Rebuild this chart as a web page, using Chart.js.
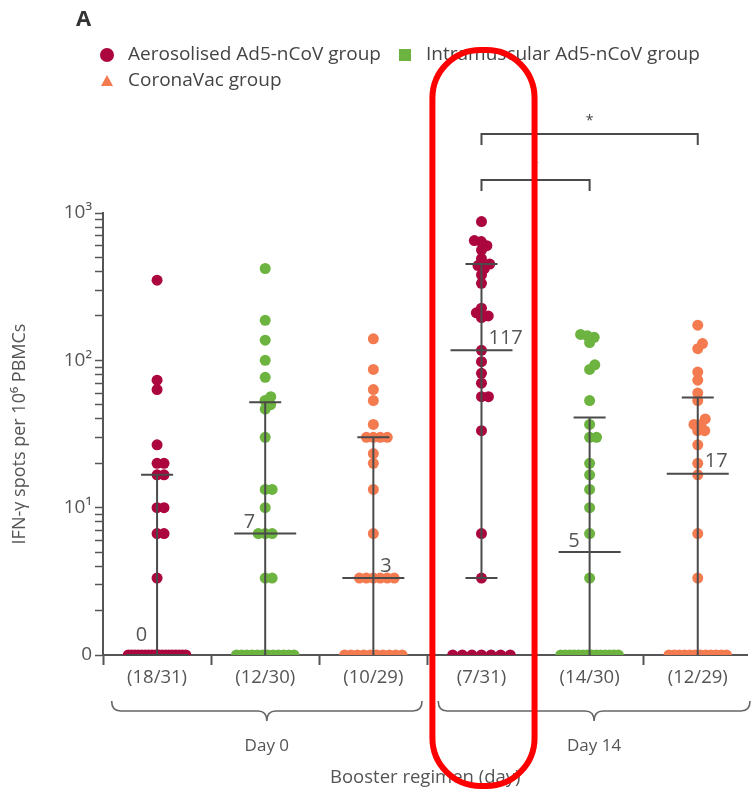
<!DOCTYPE html>
<html>
<head>
<meta charset="utf-8">
<script src="https://cdn.jsdelivr.net/npm/chart.js@4.4.0/dist/chart.umd.min.js"></script>
<style>
  html, body { margin: 0; padding: 0; background: #fff; }
</style>
</head>
<body>
<canvas id="chart" width="753" height="795"></canvas>
<script>
// columns: Day 0 (aero, IM, CoronaVac), Day 14 (aero, IM, CoronaVac)
const groupLabels = ["(18/31)", "(12/30)", "(10/29)", "(7/31)", "(14/30)", "(12/29)"];
const dayLabels = ["Day 0", "Day 14"];
const seriesNames = ["Aerosolised Ad5-nCoV group", "Intramuscular Ad5-nCoV group", "CoronaVac group"];
const seriesColors = ["#ab063e", "#6db33f", "#f47b50"];
const seriesShapes = ["circle", "rect", "triangle"];

// IFN-γ spots per 10^6 PBMCs (0 = no response)
const aeroDay0 = [350, 73.3, 63.3, 26.7, 20, 20, 16.7, 16.7, 10, 10, 6.67, 6.67, 3.33,
  0, 0, 0, 0, 0, 0, 0, 0, 0, 0, 0, 0, 0, 0, 0, 0, 0, 0];
const imDay0 = [420, 187, 137, 100, 76.7, 56.7, 53.3, 50, 46.7, 30, 13.3, 13.3, 10, 6.67, 6.67, 6.67, 3.33, 3.33,
  0, 0, 0, 0, 0, 0, 0, 0, 0, 0, 0, 0];
const cvDay0 = [140, 86.7, 63.3, 53.3, 36.7, 30, 30, 30, 30, 23.3, 20, 13.3, 6.67, 3.33, 3.33, 3.33, 3.33, 3.33, 3.33,
  0, 0, 0, 0, 0, 0, 0, 0, 0, 0];
const aeroDay14 = [875, 650, 640, 600, 560, 490, 450, 440, 420, 380, 333, 226, 210, 200, 195, 117, 98, 81.7, 70,
  56.7, 56.7, 33.3, 6.67, 3.33, 0, 0, 0, 0, 0, 0, 0];
const imDay14 = [150, 146.7, 143.3, 132, 93.3, 86.7, 53.3, 36.7, 30, 30, 20, 16.7, 13.3, 10, 6.67, 3.33,
  0, 0, 0, 0, 0, 0, 0, 0, 0, 0, 0, 0, 0, 0];
const cvDay14 = [173.3, 130, 120, 83.3, 73.3, 60, 53.3, 40, 36.7, 36.7, 33.3, 33.3, 26.7, 20, 16.7, 6.67, 3.33,
  0, 0, 0, 0, 0, 0, 0, 0, 0, 0, 0, 0];

// median and interquartile range per column
const medians = [0, 6.67, 3.33, 117, 5, 17];
const q1 = [0, 0, 0, 3.33, 0, 0];
const q3 = [16.7, 52, 30, 451, 41, 56];
const medianLabels = ["0", "7", "3", "117", "5", "17"];
const medianLabelSide = ["left", "left", "right", "right", "left", "right"];

// significance brackets (column from, column to, label)
const bracketFrom = [4, 4];
const bracketTo = [6, 5];
const bracketText = ["*", "*"];

const yMajorTicks = [1, 10, 100, 1000];
const yTickLabels = ["0", "10\u00b9", "10\u00b2", "10\u00b3"];

const TXT = "#555";
const AXIS = "#555";
const FONT = "'Open Sans', 'DejaVu Sans', sans-serif";

// approximate pixel sizes used only to spread overlapping dots
const PX_PER_COL = 109;
const PX_PER_DECADE = 147.3;
const MIN_D = 7;

const plotVal = (v) => (v === 0 ? 1 : v);

function swarm(values, col) {
  const pts = [];
  const zeros = values.filter((v) => v === 0);
  const spread = Math.min((zeros.length - 1) * 10, 58);
  zeros.forEach((v, i) => {
    const off = zeros.length > 1 ? -spread / 2 + (spread * i) / (zeros.length - 1) : 0;
    pts.push({ x: col + off / PX_PER_COL, y: 1 });
  });
  const placed = [];
  values.filter((v) => v > 0).sort((a, b) => a - b).forEach((v) => {
    const py = Math.log10(v) * PX_PER_DECADE;
    const cands = [0];
    placed.forEach((p) => {
      const dy = Math.abs(p.py - py);
      if (dy < MIN_D) {
        const dx = Math.sqrt(MIN_D * MIN_D - dy * dy);
        cands.push(p.px + dx + 0.01, p.px - dx - 0.01);
      }
    });
    cands.sort((a, b) => Math.abs(a) - Math.abs(b));
    const px = cands.find((c) => placed.every((p) => Math.hypot(p.px - c, p.py - py) >= MIN_D - 0.05));
    placed.push({ px, py });
    pts.push({ x: col + px / PX_PER_COL, y: v });
  });
  return pts;
}

const yTickValues = [];
[1, 10, 100].forEach((d) => { for (let m = 1; m <= 9; m++) yTickValues.push(m * d); });
yTickValues.push(1000);
const xTickValues = [0.5, 1, 1.5, 2, 2.5, 3, 3.5, 4, 4.5, 5, 5.5, 6];

const decor = {
  id: "decor",
  afterDatasetsDraw(chart) {
    const { ctx, scales: { x, y } } = chart;
    ctx.save();
    ctx.strokeStyle = "#4a4a4a";
    ctx.lineWidth = 2;
    medians.forEach((m, i) => {
      const cx = x.getPixelForValue(i + 1);
      const yMed = y.getPixelForValue(plotVal(m));
      const yLo = y.getPixelForValue(plotVal(q1[i]));
      const yHi = y.getPixelForValue(plotVal(q3[i]));
      ctx.beginPath();
      ctx.moveTo(cx, yLo); ctx.lineTo(cx, yHi);
      ctx.moveTo(cx - 16, yHi); ctx.lineTo(cx + 16, yHi);
      if (q1[i] > 0) { ctx.moveTo(cx - 16, yLo); ctx.lineTo(cx + 16, yLo); }
      ctx.moveTo(cx - 31, yMed); ctx.lineTo(cx + 31, yMed);
      ctx.stroke();
      ctx.fillStyle = TXT;
      ctx.font = "20px " + FONT;
      ctx.textBaseline = "bottom";
      if (medianLabelSide[i] === "left") {
        ctx.textAlign = "right";
        ctx.fillText(medianLabels[i], cx - 10, yMed - (m === 0 ? 10 : 1));
      } else {
        ctx.textAlign = "left";
        ctx.fillText(medianLabels[i], cx + 7, yMed - 2);
      }
    });
    ctx.restore();
  },
  afterDraw(chart) {
    const { ctx, scales: { x } } = chart;
    ctx.save();
    // panel letter
    ctx.fillStyle = "#333";
    ctx.font = "bold 22px " + FONT;
    ctx.textBaseline = "middle";
    ctx.textAlign = "left";
    ctx.fillText("A", 76, 20);

    // legend
    const legendPos = [[107, 55], [405, 55], [107, 81]];
    ctx.font = "19px " + FONT;
    seriesNames.forEach((name, i) => {
      const [lx, ly] = legendPos[i];
      ctx.fillStyle = seriesColors[i];
      ctx.beginPath();
      if (seriesShapes[i] === "circle") ctx.arc(lx, ly, 7, 0, Math.PI * 2);
      else if (seriesShapes[i] === "rect") ctx.rect(lx - 6, ly - 6, 12, 12);
      else { ctx.moveTo(lx, ly - 6); ctx.lineTo(lx + 6, ly + 5); ctx.lineTo(lx - 6, ly + 5); ctx.closePath(); }
      ctx.fill();
      ctx.fillStyle = "#444";
      ctx.fillText(name, lx + 21, ly);
    });

    // significance brackets
    const bracketY = [134, 180];
    ctx.strokeStyle = "#4a4a4a";
    ctx.lineWidth = 2;
    bracketFrom.forEach((f, i) => {
      const x1 = x.getPixelForValue(f);
      const x2 = x.getPixelForValue(bracketTo[i]);
      const by = bracketY[i];
      ctx.beginPath();
      ctx.moveTo(x1, by + 11); ctx.lineTo(x1, by); ctx.lineTo(x2, by); ctx.lineTo(x2, by + 11);
      ctx.stroke();
      ctx.fillStyle = i === 0 ? "#444" : "#ccc";
      ctx.font = "14px " + FONT;
      ctx.textAlign = "center";
      ctx.textBaseline = "middle";
      ctx.fillText(bracketText[i], (x1 + x2) / 2, by - 13);
    });

    // braces under the axis
    const braceSpans = [[x.getPixelForValue(0.58), x.getPixelForValue(3.45)], [x.getPixelForValue(3.6), chart.width - 3]];
    ctx.strokeStyle = "#666";
    ctx.lineWidth = 1.6;
    braceSpans.forEach(([b1, b2], i) => {
      const top = 701, mid = 711, tip = 721;
      const c = (b1 + b2) / 2;
      ctx.beginPath();
      ctx.moveTo(b1, top);
      ctx.quadraticCurveTo(b1, mid, b1 + 9, mid);
      ctx.lineTo(c - 9, mid);
      ctx.quadraticCurveTo(c, mid, c, tip);
      ctx.quadraticCurveTo(c, mid, c + 9, mid);
      ctx.lineTo(b2 - 9, mid);
      ctx.quadraticCurveTo(b2, mid, b2, top);
      ctx.stroke();
      ctx.fillStyle = TXT;
      ctx.font = "17px " + FONT;
      ctx.textAlign = "center";
      ctx.textBaseline = "middle";
      ctx.fillText(dayLabels[i], c, 746);
    });

    // red highlight around Day 14 aerosolised column
    const rx1 = x.getPixelForValue(3.5) + 5;
    const rx2 = x.getPixelForValue(4.5) - 1;
    ctx.strokeStyle = "#ff0000";
    ctx.lineWidth = 6;
    ctx.beginPath();
    ctx.roundRect(rx1, 50, rx2 - rx1, 736, 48);
    ctx.stroke();
    ctx.restore();
  }
};

const ctx = document.getElementById("chart").getContext("2d");
new Chart(ctx, {
  type: "scatter",
  data: {
    datasets: [
      { label: seriesNames[0], data: swarm(aeroDay0, 1).concat(swarm(aeroDay14, 4)), backgroundColor: seriesColors[0] },
      { label: seriesNames[1], data: swarm(imDay0, 2).concat(swarm(imDay14, 5)), backgroundColor: seriesColors[1] },
      { label: seriesNames[2], data: swarm(cvDay0, 3).concat(swarm(cvDay14, 6)), backgroundColor: seriesColors[2] },
    ],
  },
  options: {
    responsive: false,
    animation: false,
    layout: { padding: { top: 213, left: 0, right: 0, bottom: 0 } },
    elements: { point: { radius: 5.5, hoverRadius: 5.5, borderWidth: 0 } },
    plugins: { legend: { display: false }, tooltip: { enabled: false } },
    scales: {
      x: {
        type: "linear",
        min: 0.5,
        max: 6.46,
        afterBuildTicks: (s) => { s.ticks = xTickValues.map((v) => ({ value: v })); },
        afterFit: (s) => { s.height = 140; },
        border: { color: AXIS, width: 2 },
        grid: {
          drawOnChartArea: false,
          drawTicks: true,
          tickLength: 10,
          tickWidth: 2,
          tickColor: (c) => (c.tick && Number.isInteger(c.tick.value) ? "rgba(0,0,0,0)" : AXIS),
        },
        ticks: {
          autoSkip: false,
          maxRotation: 0,
          padding: 2,
          color: TXT,
          font: { family: FONT, size: 18.5 },
          callback: (v) => (Number.isInteger(v) ? groupLabels[v - 1] : ""),
        },
        title: {
          display: true,
          text: "Booster regimen (day)",
          color: TXT,
          font: { family: FONT, size: 18.5 },
          padding: { top: 0, bottom: 6 },
        },
      },
      y: {
        type: "logarithmic",
        min: 1,
        max: 1000,
        afterBuildTicks: (s) => { s.ticks = yTickValues.map((v) => ({ value: v })); },
        afterFit: (s) => { s.width = 103; },
        border: { color: AXIS, width: 2 },
        grid: { drawOnChartArea: false, drawTicks: true, tickLength: 8, tickWidth: 1.5, tickColor: AXIS },
        ticks: {
          autoSkip: false,
          padding: 3,
          color: TXT,
          font: { family: FONT, size: 19 },
          callback: (v) => {
            const k = yMajorTicks.indexOf(v);
            return k >= 0 ? yTickLabels[k] : "";
          },
        },
        title: {
          display: true,
          text: "IFN-\u03b3 spots per 10\u2076 PBMCs",
          color: TXT,
          font: { family: FONT, size: 18 },
          padding: { top: 9, bottom: 0 },
        },
      },
    },
  },
  plugins: [decor],
});
</script>
</body>
</html>
